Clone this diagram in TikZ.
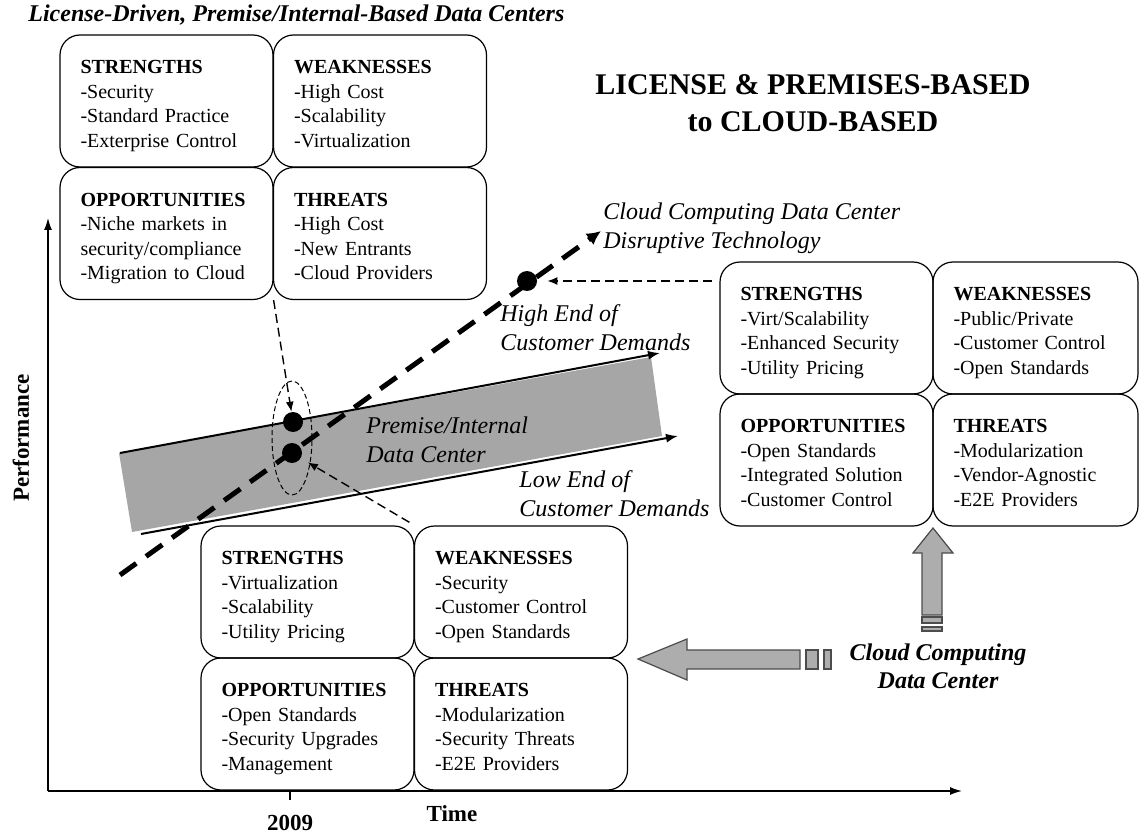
\documentclass[tikz,border=0pt]{standalone}
\usepackage{fontspec}
\setmainfont{Liberation Serif}
\usetikzlibrary{arrows.meta,shapes.geometric}

\tikzstyle{quad}=[draw,line width=0.6pt,rounded corners=10pt,minimum width=106.5pt,minimum height=66pt,text width=86pt,inner xsep=10.25pt,inner ysep=0pt,align=left,font=\fontsize{10}{12.3}\selectfont,execute at end node={\rule[-3pt]{0pt}{3pt}}]
\tikzstyle{dot}=[circle,fill,minimum size=10pt,inner sep=0pt]
\tikzstyle{note}=[font=\itshape\fontsize{12}{14.5}\selectfont,align=left,inner sep=0pt]
\tikzstyle{pointer}=[draw,line width=0.7pt,dash pattern=on 4.5pt off 2.5pt,-{Latex[length=5pt,width=4pt]}]
\tikzstyle{trend}=[draw,line width=1pt,-{Latex[length=6pt,width=4.5pt]}]
\tikzstyle{axis}=[draw,line width=0.7pt,-{Latex[length=6pt,width=4pt]}]
\tikzstyle{disrupt}=[draw,line width=2.5pt,dash pattern=on 10pt off 6pt,-{Latex[length=7pt,width=7pt]}]
\tikzstyle{block}=[fill=black!32,draw=black!70,line width=0.6pt]
\newcommand{\pxunit}{0.5pt}
\newcommand{\swothead}[1]{\rule{0pt}{12.5pt}\textbf{#1}}

\begin{document}
\begin{tikzpicture}[x=\pxunit,y=-\pxunit]
    \useasboundingbox (0,0) rectangle (1140,834);
    % titles
    \node[font=\bfseries\itshape\fontsize{12}{14.5}\selectfont,anchor=west,inner sep=0pt] (toptitle) at (28,15) {License-Driven, Premise/Internal-Based Data Centers};
    \node[font=\bfseries\fontsize{15}{18.5}\selectfont,align=center] (headline) at (813,103.5) {LICENSE \& PREMISES-BASED\\to CLOUD-BASED};
    % axes
    \coordinate (o) at (48,791);
    \coordinate (ytop) at (48,218);
    \coordinate (xend) at (962,791);
    \path[axis] (o) -- (ytop);
    \path[axis] (o) -- (xend);
    \draw[line width=0.7pt] (290,791) -- (290,800) coordinate (tick);
    \node[font=\bfseries\fontsize{11.5}{13}\selectfont,rotate=90] (perf) at (21,438) {Performance};
    \node[font=\bfseries\fontsize{11.5}{13}\selectfont,below=4pt] (year) at (tick) {2009};
    \node[font=\bfseries\fontsize{11.5}{13}\selectfont] (time) at (452,814) {Time};
    % premise band and its demand lines
    \fill[black!35] (119,453) -- (651,357) -- (662,436) -- (132,532) -- cycle;
    \coordinate (hi0) at (120,453);
    \coordinate (hi1) at (660,353);
    \coordinate (lo0) at (141,534);
    \coordinate (lo1) at (678,436);
    \path[trend] (hi0) -- (hi1);
    \path[trend] (lo0) -- (lo1);
    \node[note] (bandtext) at (366,440) [anchor=west] {Premise/Internal\\Data Center};
    \node[note] (hightext) at (500,327.5) [anchor=west] {High End of\\Customer Demands};
    \node[note] (lowtext) at (519,493.5) [anchor=west] {Low End of\\Customer Demands};
    % disruptive technology line
    \coordinate (d0) at (120,575);
    \coordinate (d1) at (601,231);
    \path[disrupt] (d0) -- (d1);
    \node[note] (cloudtext) at (603,228.5) [anchor=west] {Cloud Computing Data Center\\Disruptive Technology};
    \node[dot] (a) at (293,422) {};
    \node[dot] (b) at (292,453) {};
    \node[dot] (c) at (527,281) {};
    \node[ellipse,draw,line width=0.5pt,dash pattern=on 2.5pt off 1.5pt,minimum width=20pt,minimum height=57pt,inner sep=0pt] (ring) at (292,438) {};
    % license based SWOT
    \node[quad] (ls) at (166.5,101) {\swothead{STRENGTHS}\\-Security\\-Standard Practice\\-Exterprise Control};
    \node[quad] (lw) at (380,101) {\swothead{WEAKNESSES}\\-High Cost\\-Scalability\\-Virtualization};
    \node[quad] (lo) at (166.5,233.5) {\swothead{OPPORTUNITIES}\\-Niche markets in\\security/compliance\\-Migration to Cloud};
    \node[quad] (lt) at (380,233.5) {\swothead{THREATS}\\-High Cost\\-New Entrants\\-Cloud Providers};
    % cloud SWOT
    \node[quad] (cs) at (826.5,328) {\swothead{STRENGTHS}\\-Virt/Scalability\\-Enhanced Security\\-Utility Pricing};
    \node[quad,minimum width=102.5pt,text width=82pt] (cw) at (1035.5,328) {\swothead{WEAKNESSES}\\-Public/Private\\-Customer Control\\-Open Standards};
    \node[quad] (co) at (826.5,460) {\swothead{OPPORTUNITIES}\\-Open Standards\\-Integrated Solution\\-Customer Control};
    \node[quad,minimum width=102.5pt,text width=82pt] (ct) at (1035.5,460) {\swothead{THREATS}\\-Modularization\\-Vendor-Agnostic\\-E2E Providers};
    % premise SWOT in 2009
    \node[quad] (ps) at (307.5,592) {\swothead{STRENGTHS}\\-Virtualization\\-Scalability\\-Utility Pricing};
    \node[quad] (pw) at (521,592) {\swothead{WEAKNESSES}\\-Security\\-Customer Control\\-Open Standards};
    \node[quad] (po) at (307.5,724) {\swothead{OPPORTUNITIES}\\-Open Standards\\-Security Upgrades\\-Management};
    \node[quad] (pt) at (521,724) {\swothead{THREATS}\\-Modularization\\-Security Threats\\-E2E Providers};
    % pointers to the dots
    \coordinate (rj) at (712,281);
    \path[pointer] (lo.south east) -- (a);
    \path[pointer,shorten <=3pt,shorten >=4pt] (ps.north east) -- (b);
    \path[pointer,shorten >=5pt] (rj) -- (c);
    % cloud computing data center arrows
    \fill[block] (638,659) -- (687,639) -- (687,650) -- (800,650) -- (800,669) -- (687,669) -- (687,680) -- cycle;
    \fill[block] (806,650) rectangle (818,669);
    \fill[block] (824,650) rectangle (831,669);
    \fill[block] (933,528) -- (953,553) -- (942,553) -- (942,615) -- (922,615) -- (922,553) -- (913,553) -- cycle;
    \fill[block] (922,617) rectangle (942,623);
    \fill[block] (922,627) rectangle (942,631);
    \node[font=\bfseries\itshape\fontsize{12}{14}\selectfont,align=center] (cloudnode) at (938,666) {Cloud Computing\\Data Center};
\end{tikzpicture}
\end{document}
